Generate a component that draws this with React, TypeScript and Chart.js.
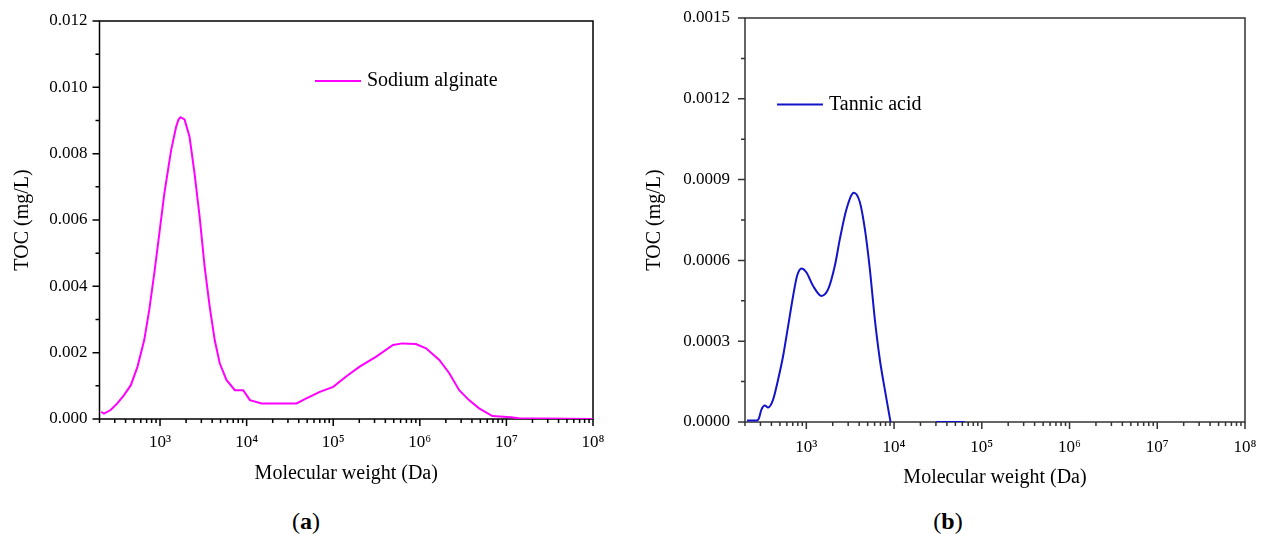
import React, { useEffect, useRef } from 'react';
import { Chart, registerables } from 'chart.js';
Chart.register(...registerables);

// ---------- data ----------
const SA_LABEL = 'Sodium alginate';
const SA_MW = [209, 225, 269, 321, 384, 460, 550, 657, 751, 859, 982, 1122, 1342, 1535, 1630, 1722, 1918, 2192, 2506, 2865, 3276, 3745, 4281, 4893, 5850, 7316, 9127, 10920, 14920, 37700, 49000, 70000, 100000, 141000, 202000, 314000, 490000, 631000, 900000, 1180000, 1680000, 2190000, 2850000, 3700000, 4840000, 6900000, 11200000, 14000000, 100000000];
const SA_TOC = [0.00022, 0.00016, 0.00027, 0.00047, 0.00072, 0.00102, 0.00158, 0.00238, 0.00329, 0.0044, 0.0056, 0.0068, 0.0081, 0.00881, 0.00902, 0.0091, 0.00903, 0.00851, 0.0074, 0.0061, 0.00459, 0.00339, 0.00238, 0.00168, 0.00118, 0.00087, 0.00087, 0.00057, 0.00047, 0.00047, 0.00062, 0.00082, 0.00097, 0.00128, 0.00158, 0.00188, 0.00223, 0.00228, 0.00226, 0.00213, 0.00178, 0.00138, 0.00087, 0.00057, 0.00032, 0.00009, 0.00005, 0.00002, 0];

const TA_LABEL = 'Tannic acid';
const TA_MW = [211, 270, 285, 308, 336, 367, 418, 477, 543, 620, 707, 785, 881, 1004, 1196, 1490, 1774, 2113, 2410, 2872, 3481, 4077, 4645, 5296, 6038, 6885, 7850, 9120, 20000, 30000, 64000];
const TA_TOC = [0.000006, 0.000006, 0.00001, 0.000046, 0.000061, 0.000054, 0.000083, 0.000158, 0.000244, 0.000356, 0.000468, 0.000543, 0.00057, 0.000555, 0.000505, 0.000468, 0.000493, 0.00058, 0.000679, 0.000791, 0.000851, 0.000816, 0.000717, 0.000568, 0.000381, 0.000232, 0.00012, 0, null, 0, 0];

const X_MIN = 200;
const X_MAX = 1e8;
const SA_Y_TICKS = [0, 0.002, 0.004, 0.006, 0.008, 0.01, 0.012];
const TA_Y_TICKS = [0, 0.0003, 0.0006, 0.0009, 0.0012, 0.0015];
const X_TITLE = 'Molecular weight (Da)';
const Y_TITLE = 'TOC (mg/L)';

// ---------- helpers ----------
const FONT = "'Liberation Serif', 'Times New Roman', serif";
const SUP: Record<string, string> = { '0': '⁰', '1': '¹', '2': '²', '3': '³', '4': '⁴', '5': '⁵', '6': '⁶', '7': '⁷', '8': '⁸', '9': '⁹' };

function isPow10(v: number) {
  const e = Math.log10(v);
  return Math.abs(e - Math.round(e)) < 1e-9;
}

function logTickValues(min: number, max: number) {
  const out: number[] = [];
  for (let n = Math.floor(Math.log10(min)); n <= Math.ceil(Math.log10(max)); n++) {
    for (let k = 1; k <= 9; k++) {
      const v = k * Math.pow(10, n);
      if (v >= min * 0.9999 && v <= max * 1.0001) out.push(v);
    }
  }
  return out;
}

function midpoints(arr: number[]) {
  const out: number[] = [];
  for (let i = 0; i < arr.length - 1; i++) out.push((arr[i] + arr[i + 1]) / 2);
  return out;
}

function zeroPadding(s: any) {
  s.paddingLeft = 0;
  s.paddingRight = 0;
  s.paddingTop = 0;
  s.paddingBottom = 0;
}

const framePlugin = {
  id: 'frame',
  beforeDatasetsDraw(chart: any, _args: any, opts: any) {
    const { ctx, chartArea: a, scales } = chart;
    ctx.save();
    ctx.strokeStyle = opts.color;
    ctx.lineWidth = opts.width;
    ctx.strokeRect(a.left, a.top, a.right - a.left, a.bottom - a.top);
    ctx.beginPath();
    const xs = scales.x;
    xs.ticks.forEach((t: any) => {
      const px = xs.getPixelForValue(t.value);
      const len = isPow10(t.value) ? 7 : 4;
      ctx.moveTo(px, a.bottom);
      ctx.lineTo(px, a.bottom + len);
    });
    const ys = scales.y;
    ys.ticks.forEach((t: any) => {
      const py = ys.getPixelForValue(t.value);
      ctx.moveTo(a.left, py);
      ctx.lineTo(a.left - 7, py);
    });
    (opts.yMinor as number[]).forEach((v) => {
      const py = ys.getPixelForValue(v);
      ctx.moveTo(a.left, py);
      ctx.lineTo(a.left - 4, py);
    });
    ctx.stroke();
    ctx.restore();
  },
};

const legendPlugin = {
  id: 'innerLegend',
  afterDatasetsDraw(chart: any, _args: any, opts: any) {
    const { ctx } = chart;
    const ds = chart.data.datasets[0];
    ctx.save();
    ctx.strokeStyle = ds.borderColor;
    ctx.lineWidth = 2;
    ctx.beginPath();
    ctx.moveTo(opts.x1, opts.y);
    ctx.lineTo(opts.x2, opts.y);
    ctx.stroke();
    ctx.fillStyle = '#000';
    ctx.font = `20px ${FONT}`;
    ctx.textBaseline = 'middle';
    ctx.textAlign = 'left';
    ctx.fillText(ds.label, opts.x2 + 6, opts.y);
    ctx.restore();
  },
};

function makeConfig(p: {
  label: string; mw: number[]; toc: (number | null)[]; color: string;
  yTicks: number[]; decimals: number; axisColor: string;
  yWidth: number; xHeight: number; pad: any; yTitlePad: number; xTitlePad: number;
  xTickPad: number; yTickPad: number; legend: any; smooth: boolean;
}) {
  const data = p.mw.map((x, i) => ({ x, y: p.toc[i] }));
  return {
    type: 'line',
    data: {
      datasets: [{
        label: p.label,
        data,
        borderColor: p.color,
        borderWidth: 2,
        pointRadius: 0,
        fill: false,
        spanGaps: false,
        tension: p.smooth ? 0.4 : 0,
        cubicInterpolationMode: p.smooth ? 'monotone' : 'default',
      }],
    },
    options: {
      responsive: false,
      animation: false,
      devicePixelRatio: 1,
      layout: { padding: p.pad },
      plugins: {
        legend: { display: false },
        tooltip: { enabled: false },
        frame: { color: p.axisColor, width: 1.5, yMinor: midpoints(p.yTicks) },
        innerLegend: p.legend,
      },
      scales: {
        x: {
          type: 'logarithmic',
          min: X_MIN,
          max: X_MAX,
          grid: { display: false, drawTicks: false },
          border: { display: false },
          afterBuildTicks: (s: any) => { s.ticks = logTickValues(X_MIN, X_MAX).map((v) => ({ value: v })); },
          afterFit: (s: any) => { s.height = p.xHeight; zeroPadding(s); },
          ticks: {
            autoSkip: false, maxRotation: 0, minRotation: 0, padding: p.xTickPad,
            color: '#000', font: { family: FONT, size: 17 },
            callback: (v: any) => {
              const n = Number(v);
              if (!isPow10(n)) return '';
              const e = String(Math.round(Math.log10(n)));
              return '10' + e.split('').map((c) => SUP[c]).join('');
            },
          },
          title: { display: true, text: X_TITLE, color: '#000', font: { family: FONT, size: 20 }, padding: { top: 0, bottom: p.xTitlePad } },
        },
        y: {
          type: 'linear',
          min: p.yTicks[0],
          max: p.yTicks[p.yTicks.length - 1],
          grid: { display: false, drawTicks: false },
          border: { display: false },
          afterBuildTicks: (s: any) => { s.ticks = p.yTicks.map((v) => ({ value: v })); },
          afterFit: (s: any) => { s.width = p.yWidth; zeroPadding(s); },
          ticks: {
            padding: p.yTickPad, color: '#000', font: { family: FONT, size: 17 },
            callback: (v: any) => Number(v).toFixed(p.decimals),
          },
          title: { display: true, text: Y_TITLE, color: '#000', font: { family: FONT, size: 20 }, padding: { top: p.yTitlePad, bottom: 0 } },
        },
      },
    },
    plugins: [framePlugin, legendPlugin],
  };
}

function ChartBox({ config, left, width, height }: { config: any; left: number; width: number; height: number }) {
  const ref = useRef<HTMLCanvasElement>(null);
  useEffect(() => {
    const c = new Chart(ref.current as HTMLCanvasElement, config);
    return () => c.destroy();
  }, []);
  return (
    <div style={{ position: 'absolute', left, top: 0, width, height }}>
      <canvas ref={ref} width={width} height={height} style={{ width, height, display: 'block' }} />
    </div>
  );
}

const leftConfig = makeConfig({
  label: SA_LABEL, mw: SA_MW, toc: SA_TOC, color: '#ff00ff',
  yTicks: SA_Y_TICKS, decimals: 3, axisColor: '#000',
  yWidth: 99.5, xHeight: 81, pad: { top: 21, right: 32, left: 0, bottom: 0 },
  yTitlePad: 10.5, xTitlePad: 14, xTickPad: 13, yTickPad: 12,
  legend: { x1: 315, x2: 361, y: 81 }, smooth: false,
});

const rightConfig = makeConfig({
  label: TA_LABEL, mw: TA_MW, toc: TA_TOC, color: '#1414c8',
  yTicks: TA_Y_TICKS, decimals: 4, axisColor: '#333',
  yWidth: 115, xHeight: 78, pad: { top: 18, right: 17, left: 0, bottom: 0 },
  yTitlePad: 12.5, xTitlePad: 10, xTickPad: 15, yTickPad: 15,
  legend: { x1: 147, x2: 193, y: 104.5 }, smooth: true,
});

function Caption({ letter, x }: { letter: string; x: number }) {
  return (
    <div style={{ position: 'absolute', left: x, top: 521, transform: 'translate(-50%, -50%)', fontFamily: FONT, fontSize: 24, color: '#000', whiteSpace: 'nowrap', lineHeight: 1 }}>
      (<b>{letter}</b>)
    </div>
  );
}

export default function App() {
  return (
    <div style={{ position: 'fixed', left: 0, top: 0, width: 1262, height: 534, background: '#fff', overflow: 'hidden' }}>
      <ChartBox config={leftConfig} left={0} width={625} height={500} />
      <ChartBox config={rightConfig} left={630} width={632} height={500} />
      <Caption letter="a" x={306} />
      <Caption letter="b" x={948} />
    </div>
  );
}
